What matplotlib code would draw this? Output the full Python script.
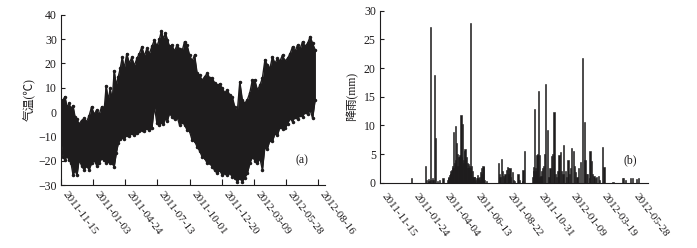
import matplotlib
matplotlib.use("Agg")
import matplotlib.pyplot as plt
import numpy as np

# ---- Panel (a): air temperature envelope, x in pixels-from-axis-start (2.5 days each) ----
temp_px = [62, 64, 66, 68, 70, 72, 74, 76, 78, 80, 82.5, 85, 87.5, 90, 92.5, 95, 97.5, 100, 102.5, 105,
           107, 109, 111, 113, 115, 117, 119, 121, 123, 125, 127.5, 130, 132.5, 135, 137.5, 140, 142.5,
           145, 147.5, 150, 152.5, 155, 157.5, 160, 162, 164, 166, 168, 170, 172.5, 175, 177.5, 180,
           182.5, 185, 187.5, 190, 192.5, 195, 197.5, 200, 202.5, 205, 207.5, 210, 212.5, 215, 217.5,
           220, 222.5, 225, 227.5, 230, 232.5, 235, 237.5, 240, 242.5, 245, 247.5, 250, 252.5, 255,
           257.5, 260, 262.5, 265, 267.5, 270, 272.5, 275, 277.5, 280, 282.5, 285, 287.5, 290, 292.5,
           295, 297.5, 300, 302.5, 305, 307.5, 310, 312.5, 315]
temp_high = [1, 5, 6.3, 2, 3.5, 1.5, 2.5, -2, -3, -5, -3.5, -2.6, -4, -1.5, 2.2, -1, 0.8, -1, 2.2, 1,
             10.8, 5, 9.7, 5, 17, 11, 14.5, 18, 22.5, 18, 24, 20, 22.5, 19, 22, 24, 26.8,
             23, 26.2, 24, 27, 29.6, 27, 30, 33.4, 30, 32.5, 29.6, 27, 27.5, 25, 27.5, 26,
             25, 28.9, 27.5, 23.4, 21, 23.4, 16, 15.2, 13, 14.5, 15.9, 14, 13.8, 12, 11,
             11.5, 9.7, 8, 9, 7, 6.3, 2, 0.1, 12.5, 5, 3.6, 5, 8, 13.1, 13.1,
             9, 11, 14, 21.4, 19.3, 18, 22.7, 20, 22, 21, 23.4, 21, 22, 24, 26.8,
             25, 27.5, 26, 28.9, 27, 28.2, 31, 28.2, 25.5]
temp_low = [-12, -18.4, -19.7, -18, -19.7, -21, -25.9, -24, -26, -19.7, -22, -23.8, -22, -23.8, -21, -19.7, -22, -21.1, -19, -19.7,
            -21, -20, -21.1, -21, -22.5, -17, -12.9, -11, -10.1, -11, -9.5, -10, -8.8, -9.5, -8.8, -8, -7.4,
            -8, -6.7, -7.5, -6.7, 2.2, -4.7, -5.5, -4, -5, -2.6, -3.5, -0.6, -2, -3, -1.9, -5.3,
            -4, -5.3, -7.4, -8, -11.5, -12, -14.3, -16, -18.4, -19, -21.1, -21, -22.5, -24, -25.2,
            -24, -25.9, -25, -25.9, -25, -26.6, -27, -28.6, -27.2, -28.6, -27, -25.2, -21.1, -18.4, -20,
            -21.1, -19, -23.8, -14.3, -15, -11.5, -12, -8.8, -9.5, -6, -7, -6.7, -5, -2.6, -4,
            -1.9, -3, -1.2, -2, 0.1, -1, 0.8, -2.6, 5]

temp_ticks = [0, 80, 160, 240, 320, 400, 480, 560, 640]
temp_ticklabels = ["2011-11-15", "2011-01-03", "2011-04-24", "2011-07-13", "2011-10-01",
                   "2011-12-20", "2012-03-09", "2012-05-28", "2012-08-16"]

# ---- Panel (b): daily rainfall (mm) ----
rain_day = [70, 102, 104, 107, 109, 112, 113, 116, 118, 122, 124, 127, 133, 140,
            151, 152, 153, 155, 156, 157, 158, 159, 160, 161, 162, 163, 164, 165, 167, 168, 169, 170,
            171, 172, 174, 175, 176, 178, 179, 180, 181, 182, 184, 185, 186, 187, 189, 190, 191, 193,
            194, 195, 196, 197, 199, 200, 202, 203, 205, 206, 208, 209, 211, 213, 215, 217, 218, 220,
            222, 224, 226, 227, 229, 230, 232, 236,
            263, 265, 267, 270, 272, 274, 276, 278, 281, 283, 285, 287, 289, 291, 294, 296, 300, 307,
            311, 316, 318, 322,
            339, 341, 342, 344, 345, 347, 349, 351, 353, 354, 356, 358, 360, 362, 364, 365, 368, 373,
            376, 378, 381, 383, 387, 390, 393, 396, 398, 402, 404, 407, 409, 413, 414, 418, 421, 423,
            426, 430, 432, 435, 438, 442, 446, 450, 454, 456, 459, 462, 465, 467, 470, 472, 476, 479,
            482, 485, 489, 494, 498,
            518, 539, 542, 546, 558, 561, 570, 574]
rain_mm = [0.8, 3.0, 0.4, 0.6, 0.3, 27.1, 0.5, 0.8, 0.4, 18.8, 7.8, 0.3, 0.5, 0.8,
           0.5, 0.8, 1.0, 1.3, 1.6, 2.0, 1.5, 2.3, 1.8, 3.0, 2.5, 8.9, 2.5, 3.5, 9.9, 4.0, 3.0, 7.0,
           2.5, 5.0, 4.5, 3.0, 4.5, 4.8, 3.5, 11.8, 4.5, 3.0, 10.3, 4.0, 3.5, 5.5, 5.8, 4.0, 3.0, 4.4,
           2.5, 3.5, 3.3, 2.5, 3.0, 2.5, 27.8, 3.0, 2.0, 1.0, 0.8, 1.0, 1.0, 0.5, 0.8, 1.3, 0.8, 0.5,
           1.0, 1.8, 2.6, 1.5, 2.9, 2.8, 0.5, 0.3,
           3.5, 1.5, 1.0, 4.1, 2.0, 1.2, 0.8, 1.5, 2.3, 2.8, 2.5, 1.5, 2.5, 1.0, 1.9, 0.5, 0.3, 1.5,
           0.4, 0.3, 2.2, 5.5,
           1.0, 2.0, 2.8, 12.9, 2.5, 2.0, 4.9, 5.0, 16.0, 4.8, 1.0, 1.2, 2.0, 2.5, 3.0, 5.0, 17.2, 9.2,
           1.0, 2.5, 4.7, 5.0, 12.4, 1.5, 1.0, 2.0, 4.8, 5.3, 2.0, 1.5, 6.5, 2.0, 1.0, 3.9, 1.5, 2.5,
           6.1, 5.6, 3.0, 1.8, 1.0, 2.5, 3.6, 21.8, 10.5, 4.0, 1.5, 1.5, 0.8, 5.5, 3.8, 1.5, 1.2, 0.8,
           1.0, 1.2, 0.5, 6.2, 2.8,
           0.2, 0.8, 0.9, 0.4, 0.9, 0.9, 0.6, 0.9]

rain_ticks = [0, 70, 140, 210, 280, 350, 420, 490, 560]
rain_ticklabels = ["2011-11-15", "2011-01-24", "2011-04-04", "2011-06-13", "2011-08-22",
                   "2011-10-31", "2012-01-09", "2012-03-19", "2012-05-28"]

# ---------------------------------------------------------------
plt.rcParams['font.family'] = ['Liberation Serif', 'Noto Sans CJK SC']
ink = '#1e1c1d'
W, H = 697, 248
fig = plt.figure(figsize=(W / 100, H / 100), dpi=100)

axL = fig.add_axes([61 / W, 1 - 185 / H, 264 / W, (185 - 14.7) / H])
axR = fig.add_axes([380 / W, 1 - 182.7 / H, 268 / W, (182.7 - 10.7) / H])

# Panel (a)
td = (np.array(temp_px) - 62) * 2.5
hi = np.array(temp_high)
lo = np.array(temp_low)
axL.fill_between(td, lo, hi, color=ink, linewidth=0)
zx = np.repeat(td, 2)
zy = np.empty(2 * len(td))
zy[0::2] = hi
zy[1::2] = lo
axL.plot(zx, zy, color=ink, lw=1.0)
axL.plot(td, hi, color=ink, lw=1.0, marker='.', ms=3)
axL.plot(td, lo, color=ink, lw=1.0, marker='.', ms=3)
axL.set_xlim(0, 657)
axL.set_ylim(-30, 40)
axL.set_yticks(range(-30, 41, 10))
axL.set_xticks(temp_ticks)
axL.set_xticklabels(temp_ticklabels, rotation=-53, ha='left', va='top', fontsize=8)
axL.tick_params(axis='y', direction='in', length=3, labelsize=8.5, pad=3, colors=ink)
axL.tick_params(axis='x', direction='in', length=4, pad=3.5, colors=ink)
axL.set_ylabel('气温(℃)', fontsize=8.5, labelpad=2, color=ink)
axL.text(0.913, 0.147, '(a)', transform=axL.transAxes, ha='center', va='center', fontsize=8.5, color=ink)

# Panel (b)
axR.bar(rain_day, rain_mm, width=2.6, color=ink, edgecolor=ink, linewidth=0.4)
axR.set_xlim(0, 596)
axR.set_ylim(0, 30)
axR.set_yticks(range(0, 31, 5))
axR.set_xticks(rain_ticks)
axR.set_xticklabels(rain_ticklabels, rotation=-53, ha='left', va='top', fontsize=8)
axR.tick_params(axis='y', direction='in', length=3, labelsize=8.5, pad=3, colors=ink)
axR.tick_params(axis='x', length=0, pad=6.5, colors=ink)
axR.set_ylabel('降雨(mm)', fontsize=8.5, labelpad=4, color=ink)
axR.text(0.933, 0.132, '(b)', transform=axR.transAxes, ha='center', va='center', fontsize=8.5, color=ink)

for ax in (axL, axR):
    ax.spines['top'].set_visible(False)
    ax.spines['right'].set_visible(False)
    for s in ('left', 'bottom'):
        ax.spines[s].set_color(ink)
        ax.spines[s].set_linewidth(0.8)

fig.savefig('out.png', dpi=100)
